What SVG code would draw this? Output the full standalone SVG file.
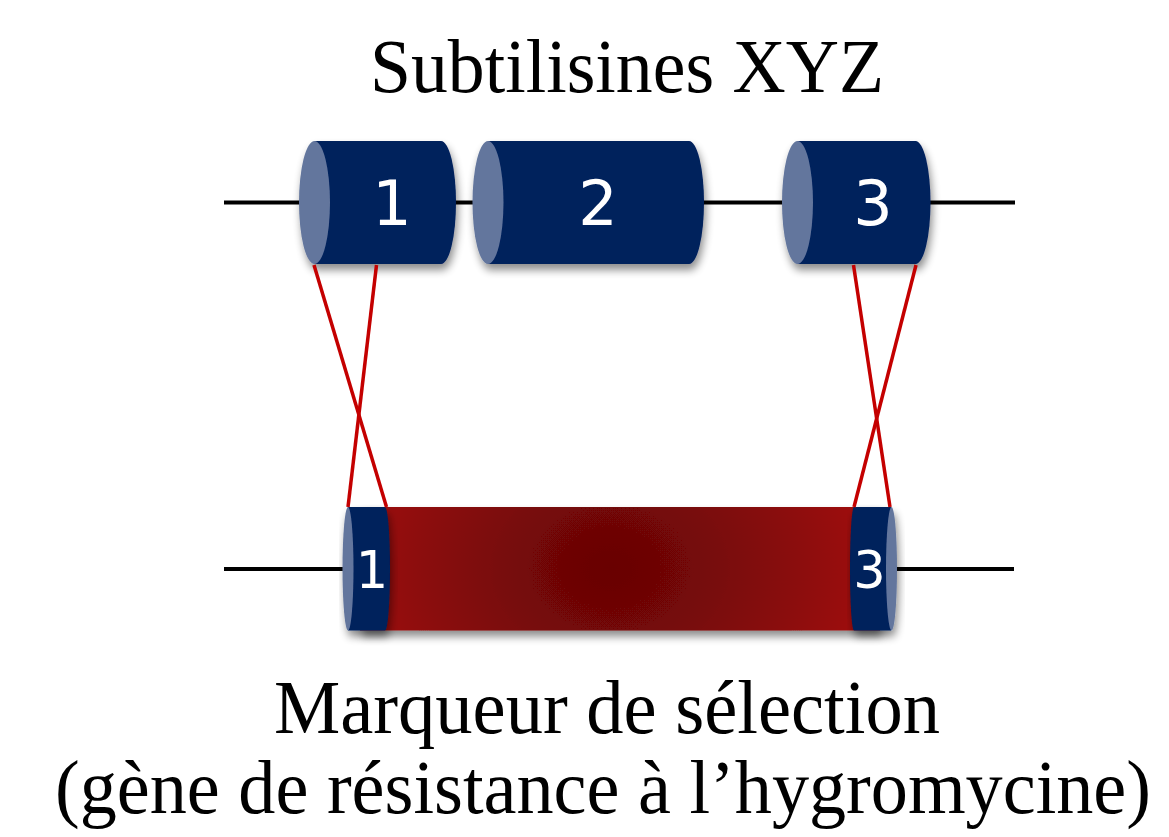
<svg xmlns="http://www.w3.org/2000/svg" width="1169" height="837" viewBox="0 0 1169 837">
  <style>
    .title { font-family: "Liberation Serif", "Times New Roman", serif; font-size: 77px; fill: #000; }
    .num { font-family: "DejaVu Sans", Verdana, sans-serif; fill: #fff; text-anchor: middle; }
    .big { font-size: 62px; }
    .small { font-size: 51px; }
    .body { fill: #01205c; }
    .face { fill: #63769d; }
    .dna { stroke: #000; stroke-width: 4; fill: none; }
    .cross { stroke: #c40000; stroke-width: 3.5; fill: none; }
  </style>
  <defs>
    <filter id="shadow" x="-10%" y="-20%" width="125%" height="150%">
      <feGaussianBlur in="SourceAlpha" stdDeviation="4"/>
      <feOffset dx="2" dy="6" result="b"/>
      <feComponentTransfer><feFuncA type="linear" slope="0.45"/></feComponentTransfer>
      <feMerge><feMergeNode/><feMergeNode in="SourceGraphic"/></feMerge>
    </filter>
    <radialGradient id="redBody" gradientUnits="userSpaceOnUse" cx="0" cy="0" r="1"
                    gradientTransform="translate(610 568) scale(250 200)">
      <stop offset="0" stop-color="#690505"/>
      <stop offset="0.2" stop-color="#6e0606"/>
      <stop offset="0.45" stop-color="#790808"/>
      <stop offset="0.75" stop-color="#8b0c0c"/>
      <stop offset="1" stop-color="#9c1010"/>
    </radialGradient>
  </defs>

  <!-- headings -->
  <text class="title" x="627" y="92" text-anchor="middle" textLength="514" lengthAdjust="spacingAndGlyphs">Subtilisines XYZ</text>

  <!-- DNA strands -->
  <g id="strands">
    <line class="dna" x1="224" y1="202.5" x2="1015" y2="202.5"/>
    <line class="dna" x1="224" y1="569" x2="1014" y2="569"/>
  </g>

  <!-- wild-type locus: exons 1, 2, 3 -->
  <g id="exon1" filter="url(#shadow)">
    <path class="body" d="M314.5,141 H441 A15,61.5 0 0 1 441,264 H314.5 Z"/>
    <ellipse class="face" cx="314.5" cy="202.5" rx="15.5" ry="61.5"/>
    <text class="num big" x="392" y="225">1</text>
  </g>
  <g id="exon2" filter="url(#shadow)">
    <path class="body" d="M488,141 H689 A15,61.5 0 0 1 689,264 H488 Z"/>
    <ellipse class="face" cx="488" cy="202.5" rx="15.5" ry="61.5"/>
    <text class="num big" x="598" y="225">2</text>
  </g>
  <g id="exon3" filter="url(#shadow)">
    <path class="body" d="M797.5,141 H915.5 A15,61.5 0 0 1 915.5,264 H797.5 Z"/>
    <ellipse class="face" cx="797.5" cy="202.5" rx="15.5" ry="61.5"/>
    <text class="num big" x="873" y="225">3</text>
  </g>

  <!-- replacement construct: flanks 1 and 3 around the marker -->
  <g id="marker" filter="url(#shadow)">
    <rect x="360" y="507" width="520" height="123.5" fill="url(#redBody)"/>
  </g>
  <g id="flank1" filter="url(#shadow)">
    <path class="body" d="M348,507 H385 A5,61.75 0 0 1 385,630.5 H348 Z"/>
    <ellipse class="face" cx="348" cy="568.75" rx="5.5" ry="61.75"/>
    <text class="num small" x="372" y="588">1</text>
  </g>
  <g id="flank3" filter="url(#shadow)">
    <path class="body" d="M854,507 H891 V630.5 H854 A4,61.75 0 0 1 854,507 Z"/>
    <ellipse class="face" cx="891.5" cy="568.75" rx="5.5" ry="61.75"/>
    <text class="num small" x="869.5" y="588">3</text>
  </g>

  <!-- homologous recombination crossovers -->
  <g id="connectors">
    <line class="cross" x1="314" y1="265" x2="386.5" y2="507"/>
    <line class="cross" x1="376.5" y1="265" x2="348" y2="507"/>
    <line class="cross" x1="853.5" y1="265" x2="890" y2="507"/>
    <line class="cross" x1="916" y1="265" x2="854" y2="507"/>
  </g>

  <text class="title" x="607" y="733" text-anchor="middle" textLength="666" lengthAdjust="spacingAndGlyphs">Marqueur de sélection</text>
  <text class="title" x="603" y="813" text-anchor="middle" textLength="1096" lengthAdjust="spacingAndGlyphs">(gène de résistance à l’hygromycine)</text>
</svg>
